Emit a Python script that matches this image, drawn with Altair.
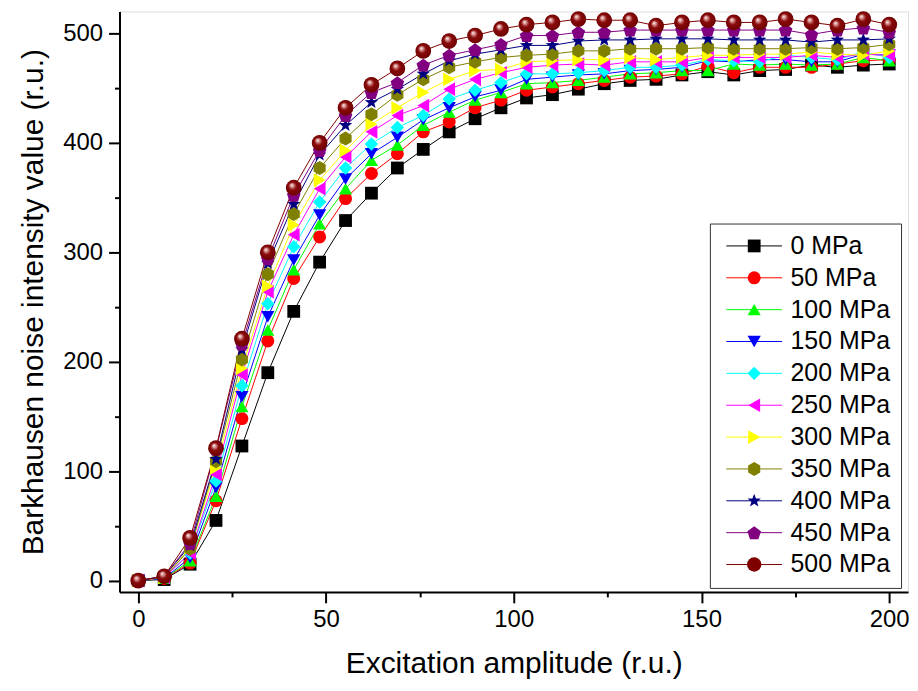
import math
import altair as alt
import pandas as pd

# ---------------- data ----------------
x_vals = [0, 6.9, 13.8, 20.7, 27.6, 34.5, 41.4, 48.3, 55.2, 62.1,
          69.0, 75.9, 82.8, 89.7, 96.6, 103.4, 110.3, 117.2, 124.1, 131.0,
          137.9, 144.8, 151.7, 158.6, 165.5, 172.4, 179.3, 186.2, 193.1, 200]

labels = ["0 MPa", "50 MPa", "100 MPa", "150 MPa", "200 MPa", "250 MPa",
          "300 MPa", "350 MPa", "400 MPa", "450 MPa", "500 MPa"]

s0 = [0, 1, 15, 55, 123, 190, 246, 291, 329, 354, 377, 394, 410, 422, 432,
      441, 444, 449, 454, 457, 458, 462, 465, 462, 466, 467, 471, 469, 471, 472]
s50 = [0, 2, 16, 73, 148, 219, 276, 314, 349, 372, 390, 410, 419, 432, 439,
       448, 451, 454, 457, 460, 461, 463, 470, 464, 469, 469, 469, 472, 475, 476]
s100 = [0, 2, 18, 77, 159, 229, 284, 326, 358, 384, 398, 416, 428, 439, 446,
        454, 455, 457, 460, 463, 464, 466, 466, 472, 471, 472, 471, 472, 478, 475]
s150 = [0, 2, 21, 85, 168, 241, 293, 334, 367, 390, 405, 421, 432, 442, 448,
        458, 460, 462, 463, 466, 467, 469, 475, 474, 476, 476, 474, 474, 481, 480]
s200 = [0, 3, 25, 91, 178, 253, 305, 346, 377, 399, 414, 425, 440, 448, 455,
        463, 463, 464, 466, 469, 469, 471, 476, 475, 474, 480, 478, 476, 483, 478]
s250 = [0, 3, 25, 97, 188, 264, 316, 358, 387, 410, 425, 434, 449, 458, 464,
        469, 471, 472, 471, 474, 474, 474, 478, 478, 478, 478, 480, 478, 481, 480]
s300 = [0, 3, 30, 103, 194, 269, 325, 366, 393, 417, 432, 446, 458, 466, 467,
        474, 475, 476, 476, 478, 476, 478, 480, 480, 481, 481, 483, 481, 480, 484]
s350 = [0, 3, 29, 109, 202, 280, 335, 377, 404, 426, 444, 458, 469, 474, 478,
        480, 481, 484, 484, 486, 486, 486, 487, 486, 486, 486, 487, 486, 487, 490]
s400 = [0, 4, 32, 111, 211, 290, 344, 389, 416, 437, 449, 463, 475, 481, 485,
        489, 489, 493, 494, 494, 495, 495, 495, 494, 494, 494, 492, 494, 494, 495]
s450 = [0, 4, 34, 120, 216, 294, 352, 393, 425, 446, 455, 471, 480, 485, 490,
        498, 498, 501, 501, 503, 503, 503, 503, 503, 503, 503, 499, 503, 505, 501]
s500 = [0, 4, 39, 121, 221, 300, 359, 400, 432, 453, 468, 484, 493, 498, 504,
        508, 510, 513, 512, 512, 507, 510, 512, 510, 510, 513, 510, 507, 513, 508]

series_values = [s0, s50, s100, s150, s200, s250, s300, s350, s400, s450, s500]

colors = ["#000000", "#ff0000", "#00ff00", "#0000ff", "#00ffff", "#ff00ff",
          "#ffff00", "#808000", "#000080", "#800080", "#800000"]

# ---------------- marker shapes ----------------
def poly(pts):
    return "M" + "L".join(f"{px:.3f},{py:.3f}" for px, py in pts) + "Z"

hexagon = poly([(math.cos(math.radians(a)), math.sin(math.radians(a)))
                for a in range(-90, 270, 60)])
star_pts = []
for k in range(10):
    r = 1.0 if k % 2 == 0 else 0.42
    a = math.radians(-90 + 36 * k)
    star_pts.append((r * math.cos(a), r * math.sin(a)))
star = poly(star_pts)
pentagon = poly([(math.cos(math.radians(-90 + 72 * k)),
                  math.sin(math.radians(-90 + 72 * k)) + 0.1) for k in range(5)])

shapes = ["square", "circle", "triangle-up", "triangle-down", "diamond",
          "triangle-left", "triangle-right", hexagon, star, pentagon, "circle"]
sizes = [165, 210, 220, 220, 200, 220, 220, 190, 300, 230, 250]

rows = []
for si, (lab, vals) in enumerate(zip(labels, series_values)):
    for xv, yv in zip(x_vals, vals):
        rows.append({"series": lab, "sidx": si, "x": xv, "y": yv})
df = pd.DataFrame(rows)

FONT = "Liberation Sans"

x_axis = alt.Axis(
    values=[0, 25, 50, 75, 100, 125, 150, 175, 200],
    labelExpr="datum.value % 50 === 0 ? datum.label : ''",
    tickSize={"condition": {"test": "datum.value % 50 === 0", "value": 11}, "value": 5},
    grid=False, domainColor="black", domainWidth=2, tickColor="black", tickWidth=2,
    labelFont=FONT, labelFontSize=24, labelColor="black", labelPadding=5,
    labelFlush=False, titleFont=FONT, titleFontSize=30, titleFontWeight="normal",
    titleColor="black", titlePadding=17,
)
y_axis = alt.Axis(
    values=[0, 50, 100, 150, 200, 250, 300, 350, 400, 450, 500],
    labelExpr="datum.value % 100 === 0 ? datum.label : ''",
    tickSize={"condition": {"test": "datum.value % 100 === 0", "value": 11}, "value": 5},
    grid=False, domainColor="black", domainWidth=2, tickColor="black", tickWidth=2,
    labelFont=FONT, labelFontSize=24, labelColor="black", labelPadding=6,
    labelFlush=False, titleFont=FONT, titleFontSize=30, titleFontWeight="normal",
    titleColor="black", titlePadding=14,
)

xenc = alt.X("x:Q", scale=alt.Scale(domain=[-5, 205], nice=False, zero=False),
             axis=x_axis, title="Excitation amplitude (r.u.)")
yenc = alt.Y("y:Q", scale=alt.Scale(domain=[-10.3, 520], nice=False, zero=False),
             axis=y_axis, title="Barkhausen noise intensity value (r.u.)")

LX, LY = 593, 213
SYM = 196
SYMOFF = 22
LBLOFF = 24
LFONT = 25
ROWPAD = 6

line_legend = alt.Legend(
    title=None, orient="none", legendX=LX, legendY=LY,
    symbolType="M-4,0L4,0", symbolSize=SYM, symbolStrokeWidth=1,
    labelFont=FONT, labelFontSize=LFONT, labelColor="black", labelLimit=400,
    labelOffset=LBLOFF, rowPadding=ROWPAD, padding=10, symbolOffset=SYMOFF,
    strokeColor="#333333", fillColor="white", zindex=0,
)
marker_legend = alt.Legend(
    title=None, orient="none", legendX=LX, legendY=LY,
    symbolSize=SYM, symbolStrokeWidth=0,
    labelFont=FONT, labelFontSize=LFONT, labelOpacity=0, labelLimit=400,
    labelOffset=LBLOFF, rowPadding=ROWPAD, padding=10, symbolOffset=SYMOFF, zindex=1,
)

base = alt.Chart(df)

lines = base.mark_line(strokeWidth=1).encode(
    x=xenc, y=yenc,
    color=alt.Color("series:N", sort=labels,
                    scale=alt.Scale(domain=labels, range=colors),
                    legend=line_legend),
    detail="series:N",
)

points = base.mark_point(filled=True, opacity=1, strokeWidth=0).encode(
    x=xenc, y=yenc,
    color=alt.Color("series:N", sort=labels,
                    scale=alt.Scale(domain=labels, range=colors),
                    legend=marker_legend),
    shape=alt.Shape("series:N", sort=labels,
                    scale=alt.Scale(domain=labels, range=shapes),
                    legend=marker_legend),
    size=alt.Size("series:N", sort=labels,
                  scale=alt.Scale(domain=labels, range=sizes), legend=None),
    order=alt.Order("sidx:Q"),
)

ball_fill = {
    "gradient": "radial",
    "x1": 0.36, "y1": 0.32, "r1": 0.0,
    "x2": 0.5, "y2": 0.5, "r2": 0.55,
    "stops": [
        {"offset": 0.0, "color": "#ffffff"},
        {"offset": 0.2, "color": "#d89090"},
        {"offset": 0.45, "color": "#8a0a0a"},
        {"offset": 1.0, "color": "#6a0000"},
    ],
}
balls = base.transform_filter(alt.datum.series == "500 MPa").mark_point(
    shape="circle", filled=True, opacity=1, size=250, fill=ball_fill, strokeWidth=0
).encode(x=xenc, y=yenc)

chart = alt.layer(lines, points, balls).resolve_scale(
    color="independent", shape="independent", size="independent"
).properties(
    width=792, height=583,
    padding={"left": 10, "top": 1, "right": 0, "bottom": 0},
).configure_view(stroke=None).configure(background="white")

chart.save("out.html", embed_options={"renderer": "svg", "actions": False})
